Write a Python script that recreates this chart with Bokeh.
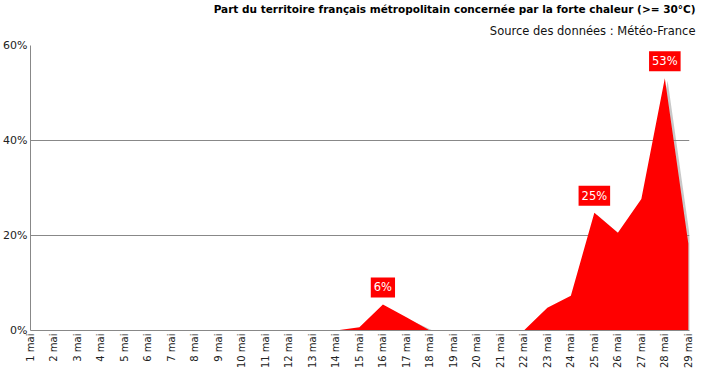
import math
from bokeh.plotting import figure
from bokeh.models import Title, Label, FixedTicker, NumeralTickFormatter
from bokeh.embed import file_html
from bokeh.resources import INLINE

days = list(range(1, 30))
day_labels = [f"{d} mai" for d in days]
share = [0, 0, 0, 0, 0, 0, 0, 0, 0, 0, 0, 0, 0, 0, 0.7, 5.5, 2.8, 0, 0, 0, 0, 0,
         4.8, 7.3, 24.8, 20.6, 27.7, 53.1, 18.3]
annotated = {16: "6%", 25: "25%", 28: "53%"}
y_ticks = [0, 20, 40, 60]
title_text = "Part du territoire français métropolitain concernée par la forte chaleur (>= 30°C)"
subtitle_text = "Source des données : Météo-France"

FONT = "DejaVu Sans"

p = figure(width=699, height=371, output_backend="svg", toolbar_location=None,
           x_range=(1, 29.05), y_range=(0, 60),
           min_border_left=29, min_border_right=10, min_border_top=38, min_border_bottom=30)
p.outline_line_color = None
p.background_fill_color = "white"

# shadow
p.varea(x=[d + 0.12 for d in days], y1=0, y2=[max(v - 0.5, 0) for v in share],
        fill_color="#888888", fill_alpha=0.45)
p.varea(x=days, y1=0, y2=share, fill_color="#ff0000")

for d, txt in annotated.items():
    v = share[d - 1]
    p.add_layout(Label(x=d, y=v, text=txt, text_align="center", text_baseline="bottom",
                       y_offset=7, text_color="white", text_font=FONT,
                       text_font_size="11.5px", background_fill_color="#ff0000",
                       padding=3))

p.xaxis.ticker = FixedTicker(ticks=days)
p.xaxis.major_label_overrides = {d: lab for d, lab in zip(days, day_labels)}
p.xaxis.major_label_orientation = math.pi / 2
p.yaxis.ticker = FixedTicker(ticks=y_ticks)
p.yaxis.formatter = NumeralTickFormatter(format="0")
p.yaxis.major_label_overrides = {t: f"{t}%" for t in y_ticks}

for ax in (p.xaxis, p.yaxis):
    ax.axis_line_color = "#888888"
    ax.major_tick_line_color = None
    ax.minor_tick_line_color = None
    ax.major_tick_out = 0
    ax.major_tick_in = 0
    ax.axis_label_standoff = 0
    ax.major_label_text_font = FONT
    ax.major_label_text_color = "#222222"
p.yaxis.major_label_text_font_size = "11px"
p.yaxis.major_label_standoff = 3
p.xaxis.major_label_text_font_size = "10px"
p.xaxis.major_label_standoff = 3

p.xgrid.grid_line_color = None
p.ygrid.grid_line_color = "#888888"
p.ygrid.grid_line_width = 1

p.add_layout(Title(text=subtitle_text, align="right",
                   text_font=FONT, text_font_size="11.5px", text_font_style="normal",
                   text_color="#111111", standoff=15, offset=-6), "above")
p.add_layout(Title(text=title_text, align="right", text_font=FONT, text_font_size="10.5px",
                   text_font_style="bold", text_color="#000000", standoff=0, offset=-6), "above")

open("out.html", "w").write(file_html(p, INLINE))
